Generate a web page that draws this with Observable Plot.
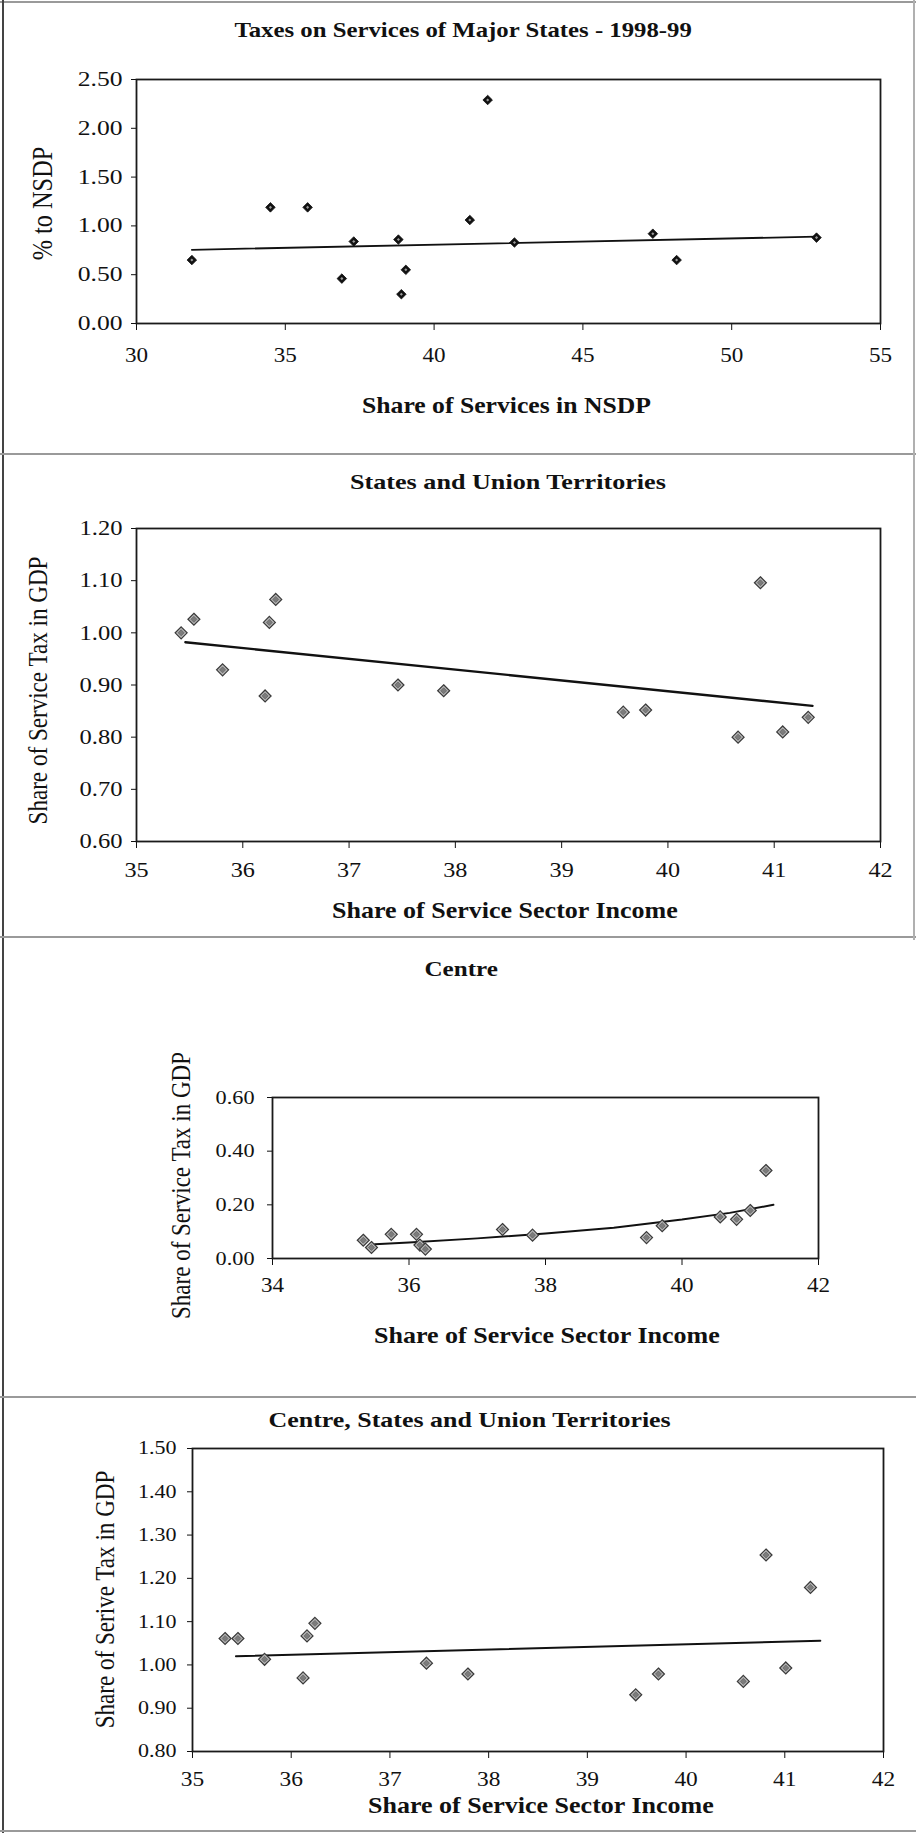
<!DOCTYPE html>
<html><head><meta charset="utf-8">
<script src="https://cdn.jsdelivr.net/npm/d3@7"></script>
<script src="https://cdn.jsdelivr.net/npm/@observablehq/plot@0.6"></script>
<style>
html,body{margin:0;padding:0;background:#fff;overflow:hidden;}
#page{position:relative;width:916px;height:1833px;overflow:hidden;background:#fff;font-family:"Liberation Serif","Times New Roman",serif;color:#111;}
.t{position:absolute;white-space:nowrap;line-height:1;}
.title{font-weight:bold;font-size:22px;}
.xl{font-weight:bold;font-size:23px;}
.yl{font-size:23px;}
.ln{position:absolute;background:#8c8c8c;}
</style></head><body><div id="page"></div>
<script>
// ---------- Panel 1: Taxes on Services of Major States - 1998-99 ----------
const p1Title = "Taxes on Services of Major States - 1998-99";
const p1XLabel = "Share of Services in NSDP";
const p1YLabel = "% to NSDP";
const p1X = [31.86, 34.5, 35.75, 36.9, 37.3, 38.8, 38.9, 39.05, 41.2, 41.8, 42.7, 47.35, 48.15, 52.85];
const p1Y = [0.65, 1.19, 1.19, 0.46, 0.84, 0.86, 0.30, 0.55, 1.06, 2.29, 0.83, 0.92, 0.65, 0.88];
const p1TrendX = [31.86, 52.85];
const p1TrendY = [0.755, 0.89];
const p1XTicks = [30, 35, 40, 45, 50, 55];
const p1YTicks = [0, 0.5, 1.0, 1.5, 2.0, 2.5];

// ---------- Panel 2: States and Union Territories ----------
const p2Title = "States and Union Territories";
const p2XLabel = "Share of Service Sector Income";
const p2YLabel = "Share of Service Tax in GDP";
const p2X = [35.42, 35.54, 35.81, 36.21, 36.25, 36.31, 37.46, 37.89, 39.58, 39.79, 40.66, 40.87, 41.08, 41.32];
const p2Y = [1.00, 1.026, 0.929, 0.879, 1.02, 1.064, 0.90, 0.889, 0.848, 0.852, 0.80, 1.096, 0.81, 0.838];
const p2TrendX = [35.46, 41.36];
const p2TrendY = [0.982, 0.86];
const p2XTicks = [35, 36, 37, 38, 39, 40, 41, 42];
const p2YTicks = [0.6, 0.7, 0.8, 0.9, 1.0, 1.1, 1.2];

// ---------- Panel 3: Centre ----------
const p3Title = "Centre";
const p3XLabel = "Share of Service Sector Income";
const p3YLabel = "Share of Service Tax in GDP";
const p3X = [35.33, 35.45, 35.74, 36.11, 36.16, 36.24, 37.37, 37.81, 39.48, 39.71, 40.56, 40.8, 41.0, 41.23];
const p3Y = [0.068, 0.041, 0.09, 0.09, 0.05, 0.035, 0.108, 0.087, 0.078, 0.122, 0.155, 0.146, 0.179, 0.328];
const p3TrendX = [35.5, 36.0, 37.0, 38.0, 39.0, 40.0, 40.7, 41.34];
const p3TrendY = [0.053, 0.060, 0.075, 0.093, 0.115, 0.145, 0.17, 0.20];
const p3XTicks = [34, 36, 38, 40, 42];
const p3YTicks = [0, 0.2, 0.4, 0.6];

// ---------- Panel 4: Centre, States and Union Territories ----------
const p4Title = "Centre, States and Union Territories";
const p4XLabel = "Share of Service Sector Income";
const p4YLabel = "Share of Serive Tax in GDP";
const p4X = [35.33, 35.46, 35.73, 36.12, 36.16, 36.24, 37.37, 37.79, 39.49, 39.72, 40.58, 40.81, 41.01, 41.26];
const p4Y = [1.061, 1.061, 1.013, 0.970, 1.067, 1.096, 1.004, 0.979, 0.931, 0.979, 0.962, 1.254, 0.993, 1.179];
const p4TrendX = [35.44, 41.36];
const p4TrendY = [1.02, 1.056];
const p4XTicks = [35, 36, 37, 38, 39, 40, 41, 42];
const p4YTicks = [0.8, 0.9, 1.0, 1.1, 1.2, 1.3, 1.4, 1.5];

const page = document.getElementById("page");
const W = 916;

// text whose width is matched to the scanned page (which is stretched horizontally)
function addText(cls, txt, cx, cy, targetLen, rotate, sy) {
  const d = document.createElement("div");
  d.className = "t " + cls;
  d.textContent = txt;
  page.appendChild(d);
  const w = d.offsetWidth, h = d.offsetHeight;
  d.style.left = (cx - w / 2) + "px";
  d.style.top = (cy - h / 2) + "px";
  const sx = targetLen / w;
  d.style.transformOrigin = "50% 50%";
  d.style.transform = (rotate ? "rotate(-90deg) " : "") + `scale(${sx}, ${sy || 1})`;
}
function addLine(x, y, w, h, color) {
  const d = document.createElement("div");
  d.className = "ln";
  d.style.left = x + "px"; d.style.top = y + "px";
  d.style.width = w + "px"; d.style.height = h + "px";
  if (color) d.style.background = color;
  page.appendChild(d);
}

const panels = [
  {title: p1Title, xl: p1XLabel, yl: p1YLabel, x: p1X, y: p1Y, tx: p1TrendX, ty: p1TrendY,
   xd: [30, 55], yd: [0, 2.5], xt: p1XTicks, yt: p1YTicks,
   frame: [136, 79, 880, 323], xPad: 16, yPad: 9, lw: 1.8, style: "black",
   xFont: 22, xStretch: 1.05, yFont: 20, yStretch: 1.28,
   titlePos: [463, 30, 457], xlPos: [506, 405, 289], ylPos: [42, 203, 113, 1.3]},
  {title: p2Title, xl: p2XLabel, yl: p2YLabel, x: p2X, y: p2Y, tx: p2TrendX, ty: p2TrendY,
   xd: [35, 42], yd: [0.6, 1.2], xt: p2XTicks, yt: p2YTicks,
   frame: [136, 528, 880, 841], xPad: 13, yPad: 9, lw: 2.4, style: "gray",
   xFont: 22, xStretch: 1.1, yFont: 21, yStretch: 1.17,
   titlePos: [508, 482, 316], xlPos: [505, 910, 346], ylPos: [38, 690, 268, 1.15]},
  {title: p3Title, xl: p3XLabel, yl: p3YLabel, x: p3X, y: p3Y, tx: p3TrendX, ty: p3TrendY,
   xd: [34, 42], yd: [0, 0.6], xt: p3XTicks, yt: p3YTicks,
   frame: [272, 1097, 818, 1258], xPad: 12, yPad: 13, lw: 2.0, style: "gray",
   xFont: 21, xStretch: 1.1, yFont: 19, yStretch: 1.17,
   titlePos: [461, 969, 73], xlPos: [547, 1335, 346], ylPos: [181, 1185, 267, 1.15]},
  {title: p4Title, xl: p4XLabel, yl: p4YLabel, x: p4X, y: p4Y, tx: p4TrendX, ty: p4TrendY,
   xd: [35, 42], yd: [0.8, 1.5], xt: p4XTicks, yt: p4YTicks,
   frame: [192, 1448, 883, 1751], xPad: 13, yPad: 11, lw: 2.0, style: "gray",
   xFont: 20, xStretch: 1.17, yFont: 18.5, yStretch: 1.19,
   titlePos: [469, 1420, 402], xlPos: [541, 1805, 346], ylPos: [105, 1599, 258, 1.15]}
];

const fmt2 = d3.format(".2f");
const MT = 10, MB = 60;

function stretchTicks(svg, axis, font, stretch) {
  const groups = svg.querySelectorAll(`g[aria-label^="${axis}-axis"]`);
  groups.forEach(g => {
    g.querySelectorAll("text").forEach(t => {
      t.style.fontSize = font + "px";
      const len = t.getComputedTextLength();
      if (len > 0) {
        t.setAttribute("textLength", (len * stretch).toFixed(2));
        t.setAttribute("lengthAdjust", "spacingAndGlyphs");
      }
    });
  });
}

for (const p of panels) {
  const [L, T, R, B] = p.frame;
  const pts = p.x.map((x, i) => ({x, y: p.y[i]}));
  const trend = p.tx.map((x, i) => ({x, y: p.ty[i]}));
  const dots = p.style === "black"
    ? [Plot.dot(pts, {x: "x", y: "y", symbol: "diamond2", r: 4.3, fill: "#111", stroke: "#111", strokeWidth: 0.8}),
       Plot.dot(pts, {x: "x", y: "y", symbol: "diamond2", r: 1.4, fill: "#9a9a9a", stroke: "none"})]
    : [Plot.dot(pts, {x: "x", y: "y", symbol: "diamond2", r: 5.4, fill: "#b4b4b4", stroke: "#3a3a3a", strokeWidth: 1.2}),
       Plot.dot(pts, {x: "x", y: "y", symbol: "diamond2", r: 2.7, fill: "#7c7c7c", stroke: "#555", strokeWidth: 0.6})];
  const svg = Plot.plot({
    width: W,
    height: (B - T) + MT + MB,
    marginLeft: L, marginRight: W - R, marginTop: MT, marginBottom: MB,
    style: {fontFamily: '"Liberation Serif","Times New Roman",serif', fontSize: "20px", color: "#111", background: "transparent", overflow: "visible"},
    x: {domain: p.xd, ticks: p.xt, tickSize: 7, tickPadding: p.xPad, tickFormat: d => String(d), label: null},
    y: {domain: p.yd, ticks: p.yt, tickSize: 5, tickPadding: p.yPad, tickFormat: fmt2, label: null},
    marks: [
      Plot.frame({stroke: "#1a1a1a", strokeWidth: 1.8}),
      Plot.line(trend, {x: "x", y: "y", stroke: "#111", strokeWidth: p.lw}),
      ...dots
    ]
  });
  svg.style.position = "absolute";
  svg.style.left = "0px";
  svg.style.top = (T - MT) + "px";
  svg.style.maxWidth = "none";
  page.appendChild(svg);
  stretchTicks(svg, "x", p.xFont, p.xStretch);
  stretchTicks(svg, "y", p.yFont, p.yStretch);
  addText("title", p.title, p.titlePos[0], p.titlePos[1], p.titlePos[2], false, 1);
  addText("xl", p.xl, p.xlPos[0], p.xlPos[1], p.xlPos[2], false, 1);
  addText("yl", p.yl, p.ylPos[0], p.ylPos[1], p.ylPos[2], true, p.ylPos[3]);
}

// page box lines (scanned page borders)
addLine(0, 1, W, 1.5, "#9a9a9a");
addLine(2, 0, 2, 1833, "#444");
addLine(0, 453, W, 1.5, "#9a9a9a");
addLine(0, 936, W, 1.5, "#9a9a9a");
addLine(0, 1396, W, 1.5, "#9a9a9a");
addLine(0, 1830, W, 1.5, "#9a9a9a");
addLine(913, 0, 1.5, 940, "#b0b0b0");
</script>
</body></html>
